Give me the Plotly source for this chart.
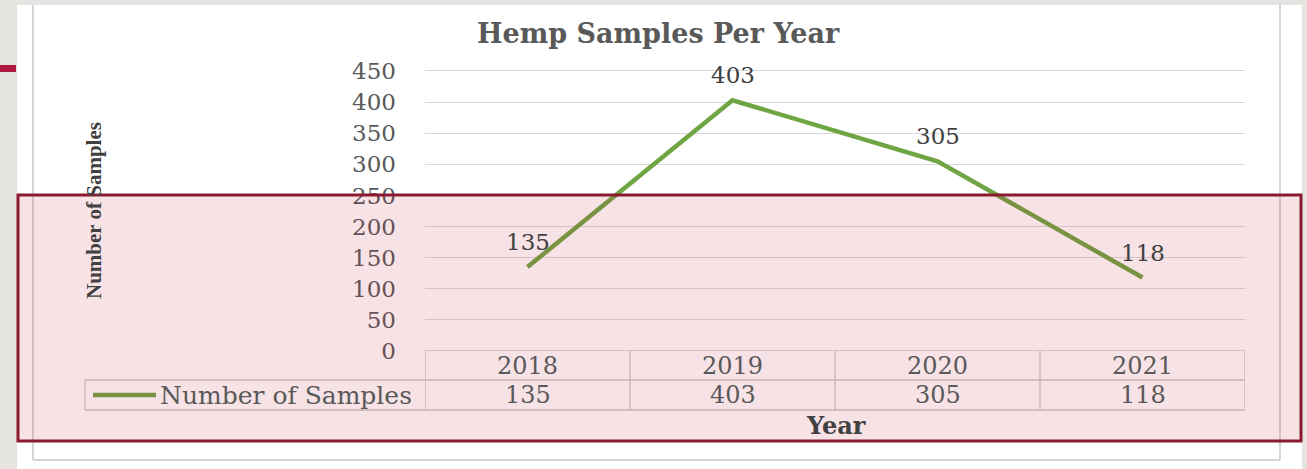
import plotly.graph_objects as go

# ---- data ----
years = ["2018", "2019", "2020", "2021"]
samples = [135, 403, 305, 118]
y_ticks = [0, 50, 100, 150, 200, 250, 300, 350, 400, 450]
series_name = "Number of Samples"
chart_title = "Hemp Samples Per Year"
x_title = "Year"
y_title = "Number of Samples"

W, H = 1307, 469
def px(x):
    return x / W
def py(y):
    return 1 - y / H

GREEN = "#70a544"
TXT = "#595959"
SERIF = "DejaVu Serif"

idx = list(range(len(years)))

fig = go.Figure()
fig.add_trace(go.Scatter(
    x=idx, y=samples, mode="lines", name=series_name,
    line=dict(color=GREEN, width=4.5), showlegend=False, hoverinfo="skip"))

shapes = []
shapes.append(dict(type="rect", xref="paper", yref="paper", layer="below",
                   x0=px(17), x1=px(1302), y0=py(469), y1=py(5),
                   fillcolor="white", line=dict(width=0)))
for (x0, y0, x1, y1) in [(33, 5, 33, 460), (1280, 5, 1280, 460), (33, 460, 1280, 460)]:
    shapes.append(dict(type="line", xref="paper", yref="paper", layer="below",
                       x0=px(x0), x1=px(x1), y0=py(y0), y1=py(y1),
                       line=dict(color="#d6d6d6", width=2)))
shapes.append(dict(type="rect", xref="paper", yref="paper", layer="below",
                   x0=px(0), x1=px(16), y0=py(72), y1=py(65),
                   fillcolor="#b2193e", line=dict(width=0)))

TBL = "#c9c9c9"
n = len(years)
for i in range(n + 1):
    shapes.append(dict(type="line", xref="x", yref="paper",
                       x0=i - 0.5, x1=i - 0.5, y0=py(351), y1=py(410),
                       line=dict(color=TBL, width=1.3)))
for yy in (380, 410):
    shapes.append(dict(type="line", xref="paper", yref="paper",
                       x0=px(85), x1=px(1245), y0=py(yy), y1=py(yy),
                       line=dict(color=TBL, width=1.3)))
shapes.append(dict(type="line", xref="paper", yref="paper",
                   x0=px(85), x1=px(85), y0=py(380), y1=py(410),
                   line=dict(color=TBL, width=1.3)))
shapes.append(dict(type="line", xref="paper", yref="paper",
                   x0=px(93), x1=px(156), y0=py(395), y1=py(395),
                   line=dict(color=GREEN, width=4.5)))

shapes.append(dict(type="rect", xref="paper", yref="paper", layer="above",
                   x0=px(18), x1=px(1301), y0=py(441), y1=py(195),
                   fillcolor="rgba(190,30,60,0.13)",
                   line=dict(color="#8a1a30", width=3)))

annotations = []
def ann(text, x, y, xref="paper", yref="paper", size=20, color=TXT, family=SERIF, **kw):
    d = dict(text=text, x=x, y=y, xref=xref, yref=yref, showarrow=False,
             yanchor="middle", font=dict(family=family, size=size, color=color))
    d.setdefault("xanchor", "center")
    d.update(kw)
    annotations.append(d)

ann("<b>" + chart_title + "</b>", px(658), py(33), size=27)
ann("<b>" + y_title + "</b>", px(94), py(211), size=21, color="#404040",
    family="Liberation Serif", textangle=-90)
ann("<b>" + x_title + "</b>", px(836), py(425), size=24, color="#404040")
for i, v in zip(idx, samples):
    ann(str(v), i, v, xref="x", yref="y", size=23, color="#404040", yshift=25)
for i, yr, v in zip(idx, years, samples):
    ann(yr, i, py(366), xref="x", size=24)
    ann(str(v), i, py(395), xref="x", size=24)
ann(series_name, px(158), py(395), size=25, xanchor="left")

unit = 280 / 450.0  # px per y unit
pad = 5
fig.update_layout(
    width=W, height=H,
    margin=dict(l=0, r=0, t=0, b=0, pad=0, autoexpand=False),
    paper_bgcolor="#e6e4e1",
    plot_bgcolor="rgba(0,0,0,0)",
    showlegend=False,
    xaxis=dict(range=[-0.5, n - 0.5], domain=[px(425), px(1245)],
               showticklabels=False, showgrid=False, zeroline=False, showline=False,
               ticks="", automargin=False),
    yaxis=dict(range=[-pad, 450 + pad],
               domain=[py(351 + pad * unit), py(71 - pad * unit)],
               tickvals=y_ticks, ticktext=[str(t) for t in y_ticks],
               showgrid=True, gridcolor="#d9d9d9", gridwidth=1.3,
               zeroline=False, showline=False, ticks="", automargin=False,
               ticklabelstandoff=28,
               tickfont=dict(family=SERIF, size=23, color=TXT)),
    shapes=shapes,
    annotations=annotations,
)

fig.write_html("out.html", config={"displayModeBar": False},
               post_script="document.body.style.margin='0';document.body.style.overflow='hidden';")
